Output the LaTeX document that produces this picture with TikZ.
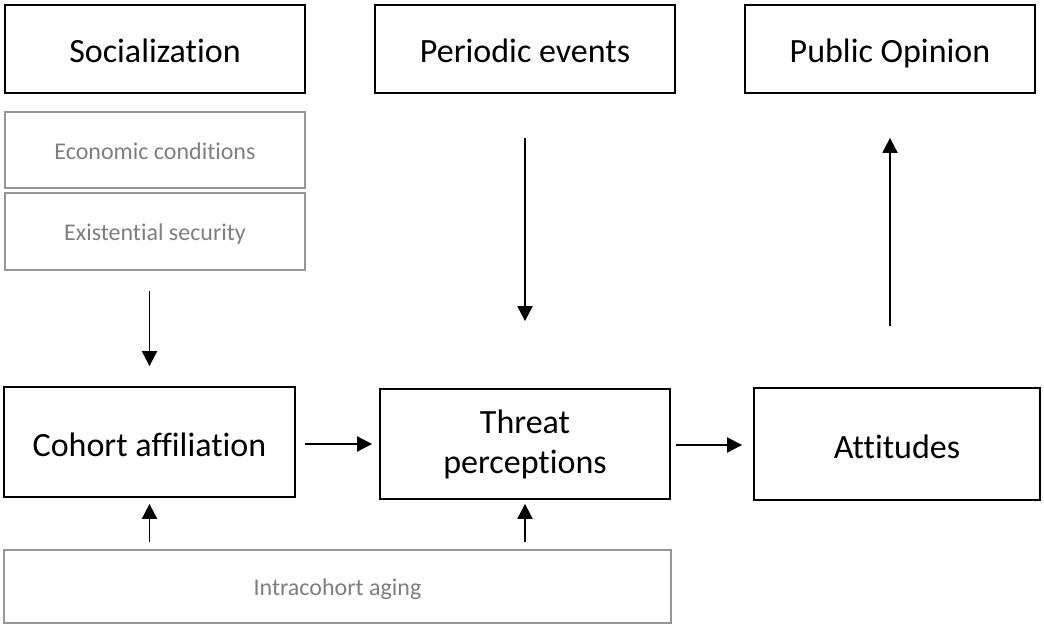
\documentclass[tikz,border=0pt]{standalone}
\usepackage{fontspec}
\setmainfont[Ligatures=NoCommon]{Carlito}
\usetikzlibrary{arrows.meta}
\definecolor{softgray}{RGB}{127,127,127}
\definecolor{framegray}{RGB}{150,150,150}
\tikzset{
  mainbox/.style={draw=black, line width=1.8pt, minimum width=#1, inner sep=0pt,
    font=\fontsize{34}{40}\selectfont, align=center},
  subbox/.style={draw=framegray, line width=1.6pt, minimum width=#1, inner sep=0pt,
    text=softgray, font=\fontsize{24}{28}\selectfont, align=center,
    text height=24pt, text depth=6pt},
  oneline/.style={text height=34pt, text depth=6pt},
  arr/.style={line width=1.9pt, -{Triangle[length=15pt,width=15pt]}},
}
\begin{document}
\begin{tikzpicture}[x=1pt,y=-1pt]
  \useasboundingbox (0,0) rectangle (1044,626);

  % top row
  \node[mainbox=300pt, oneline, minimum height=88pt] (soc) at (155,49) {Socialization};
  \node[mainbox=300pt, oneline, minimum height=88pt] (periodic) at (525,49) {Periodic events};
  \node[mainbox=290pt, oneline, minimum height=88pt] (public) at (890,49) {Public Opinion};

  % socialization factors
  \node[subbox=300pt, minimum height=76pt] (econ) at (155,150) {Economic conditions};
  \node[subbox=300pt, minimum height=77pt] (exist) at (155,231.5) {Existential security};

  % middle row
  \node[mainbox=291pt, oneline, minimum height=110pt] (cohort) at (149.5,442) {Cohort affiliation};
  \node[mainbox=290pt, minimum height=110pt] (threat) at (525,444) {Threat\\perceptions};
  \node[mainbox=286pt, oneline, minimum height=112pt] (att) at (897,444) {Attitudes};

  % bottom
  \node[subbox=667pt, minimum height=73pt] (intra) at (337.5,586.5) {Intracohort aging};

  % connectors
  \draw[arr, shorten <=20pt, shorten >=20pt] (cohort.north |- exist.south) -- (cohort.north);
  \draw[arr, shorten <=44pt, shorten >=67pt] (periodic.south) -- (periodic.south |- threat.north);
  \draw[arr, shorten <=61pt, shorten >=44pt] (public.south |- att.north) -- (public.south);
  \draw[arr, shorten <=9pt, shorten >=7pt] (cohort.east |- 0,444) -- (threat.west |- 0,444);
  \draw[arr, shorten <=5pt, shorten >=11pt] (threat.east |- 0,445) -- (att.west |- 0,445);
  \draw[arr, shorten <=7pt, shorten >=6pt] (intra.north -| cohort.south) -- (cohort.south);
  \draw[arr, shorten <=7pt, shorten >=4pt] (intra.north -| threat.south) -- (threat.south);
\end{tikzpicture}
\end{document}
